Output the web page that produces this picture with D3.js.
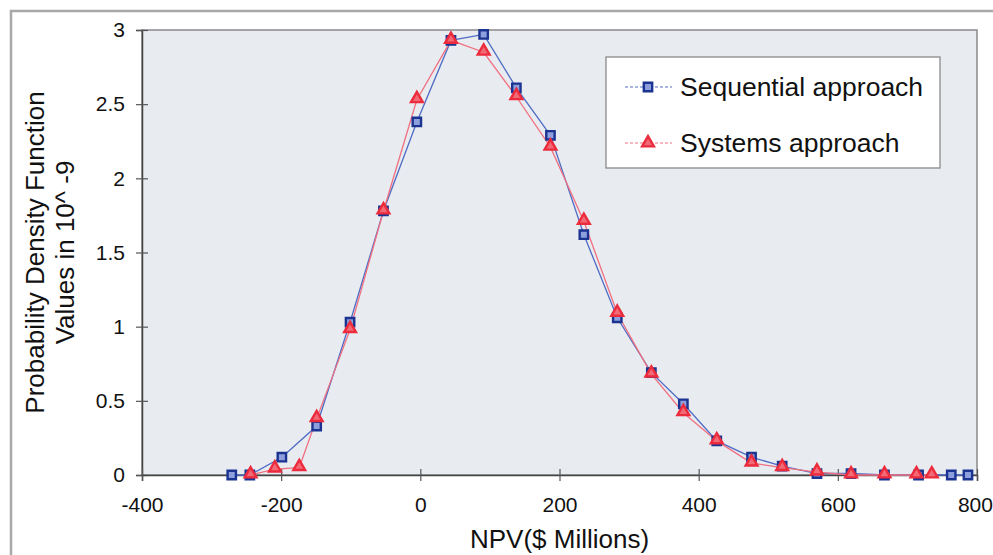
<!DOCTYPE html>
<html>
<head>
<meta charset="utf-8">
<script src="https://cdn.jsdelivr.net/npm/d3@7"></script>
<style>
  body { margin: 0; background: #fff; }
  svg { display: block; font-family: "Liberation Sans", Arial, sans-serif; }
</style>
</head>
<body>
<svg width="993" height="555"></svg>
<script>
// NPV bin centres ($ Millions) and pdf values (x 10^-9)
var seqX = [-271, -245, -199, -149, -101, -53, -5, 44, 91, 138, 187, 235, 283, 332, 378, 426, 476, 520, 570, 619, 667, 716, 763, 787];
var seqY = [0.0, 0.0, 0.12, 0.33, 1.03, 1.78, 2.38, 2.93, 2.97, 2.61, 2.29, 1.62, 1.06, 0.69, 0.48, 0.23, 0.12, 0.06, 0.01, 0.01, 0.0, 0.0, 0.0, 0.0];

var sysX = [-244, -209, -174, -149, -101, -53, -5, 44, 91, 138, 187, 235, 283, 332, 378, 426, 476, 520, 570, 619, 667, 713, 735];
var sysY = [0.0, 0.04, 0.05, 0.38, 0.98, 1.78, 2.53, 2.93, 2.85, 2.55, 2.21, 1.71, 1.09, 0.68, 0.42, 0.23, 0.08, 0.05, 0.02, 0.0, 0.0, 0.0, 0.0];

var xTicks = [-400, -200, 0, 200, 400, 600, 800];
var yTicks = [0, 0.5, 1, 1.5, 2, 2.5, 3];
var seriesNames = ["Sequential approach", "Systems approach"];

var svg = d3.select("svg");
var pLeft = 142, pRight = 977, pTop = 30, pBottom = 475;

var x = d3.scaleLinear().domain([-400, 800]).range([pLeft, pRight]);
var y = d3.scaleLinear().domain([0, 3]).range([pBottom, pTop]);

// outer chart frame
svg.append("rect")
    .attr("x", 11).attr("y", 11).attr("width", 1000).attr("height", 600)
    .attr("fill", "#fff").attr("stroke", "#a8a8a8").attr("stroke-width", 2.5);

// plot area
svg.append("rect")
    .attr("x", pLeft).attr("y", pTop).attr("width", pRight - pLeft).attr("height", pBottom - pTop)
    .attr("fill", "#e8ebf0").attr("stroke", "#8a8a8a").attr("stroke-width", 1.5);

// axes
var yAxis = d3.axisLeft(y).tickValues(yTicks).tickSize(6).tickPadding(11)
    .tickFormat(function(d) { return String(d); });
var gy = svg.append("g").attr("transform", "translate(" + pLeft + ",0)").call(yAxis);
gy.selectAll(".tick line").attr("x2", -6).attr("x1", 6);

var xAxis = d3.axisBottom(x).tickValues(xTicks).tickSize(6).tickPadding(16)
    .tickFormat(function(d) { return String(d); });
var gx = svg.append("g").attr("transform", "translate(0," + pBottom + ")").call(xAxis);
gx.selectAll(".tick line").attr("y1", -6).attr("y2", 6);
// last label sits against the right edge, like the original
gx.selectAll(".tick text").filter(function(d) { return d === 800; }).attr("dx", "-0.1em");

svg.selectAll(".domain").attr("stroke", "#444").attr("stroke-width", 1.5);
svg.selectAll(".tick line").attr("stroke", "#555").attr("stroke-width", 1.2);
svg.selectAll(".tick text").attr("font-size", 21).attr("fill", "#111")
    .attr("font-family", "Liberation Sans, Arial, sans-serif");

// axis titles
svg.append("text")
    .attr("x", (pLeft + pRight) / 2).attr("y", 548)
    .attr("text-anchor", "middle").attr("font-size", 26).attr("fill", "#111")
    .text("NPV($ Millions)");

var yt = svg.append("text")
    .attr("transform", "translate(0," + ((pTop + pBottom) / 2) + ") rotate(-90)")
    .attr("text-anchor", "middle").attr("font-size", 26).attr("fill", "#111");
yt.append("tspan").attr("x", 0).attr("y", 44).text("Probability Density Function");
yt.append("tspan").attr("x", 0).attr("y", 74).text("Values in 10^ -9");

// series
var seq = seqX.map(function(d, i) { return [d, seqY[i]]; });
var sys = sysX.map(function(d, i) { return [d, sysY[i]]; });

var line = d3.line().x(function(d) { return x(d[0]); }).y(function(d) { return y(d[1]); });

var blueDark = "#1b3391", red = "#ec2b3c";
var blueFill = "#8d9fdc", redFill = "#f26a76";

svg.append("path").datum(seq).attr("d", line)
    .attr("fill", "none").attr("stroke", "#4f6cc4").attr("stroke-width", 1.3);
svg.append("path").datum(sys).attr("d", line)
    .attr("fill", "none").attr("stroke", "#f07080").attr("stroke-width", 1.3);

var sq = d3.symbol().type(d3.symbolSquare).size(70);
var tri = d3.symbol().type(d3.symbolTriangle).size(60);

svg.selectAll(".seq").data(seq).enter().append("path")
    .attr("class", "seq")
    .attr("d", sq)
    .attr("transform", function(d) { return "translate(" + x(d[0]) + "," + y(d[1]) + ")"; })
    .attr("fill", blueFill).attr("stroke", blueDark).attr("stroke-width", 2.4);

svg.selectAll(".sys").data(sys).enter().append("path")
    .attr("class", "sys")
    .attr("d", tri)
    .attr("transform", function(d) { return "translate(" + x(d[0]) + "," + (y(d[1]) - 1) + ")"; })
    .attr("fill", redFill).attr("stroke", red).attr("stroke-width", 2.4);

// legend
var lg = svg.append("g").attr("transform", "translate(606,57)");
lg.append("rect").attr("width", 334).attr("height", 111)
    .attr("fill", "#fff").attr("stroke", "#8a8a8a").attr("stroke-width", 1.3);

var items = [
  { name: seriesNames[0], line: "#4f6cc4", sym: sq, fill: blueFill, stroke: blueDark, y: 30 },
  { name: seriesNames[1], line: "#f07080", sym: tri, fill: redFill, stroke: red, y: 86 }
];
items.forEach(function(it) {
  lg.append("line").attr("x1", 19).attr("x2", 66).attr("y1", it.y).attr("y2", it.y)
    .attr("stroke", it.line).attr("stroke-width", 1.2).attr("stroke-dasharray", "3,2");
  lg.append("path").attr("d", it.sym).attr("transform", "translate(42," + it.y + ")")
    .attr("fill", it.fill).attr("stroke", it.stroke).attr("stroke-width", 2.4);
  lg.append("text").attr("x", 74).attr("y", it.y + 9)
    .attr("font-size", 26.5).attr("fill", "#111").text(it.name);
});
</script>
</body>
</html>
